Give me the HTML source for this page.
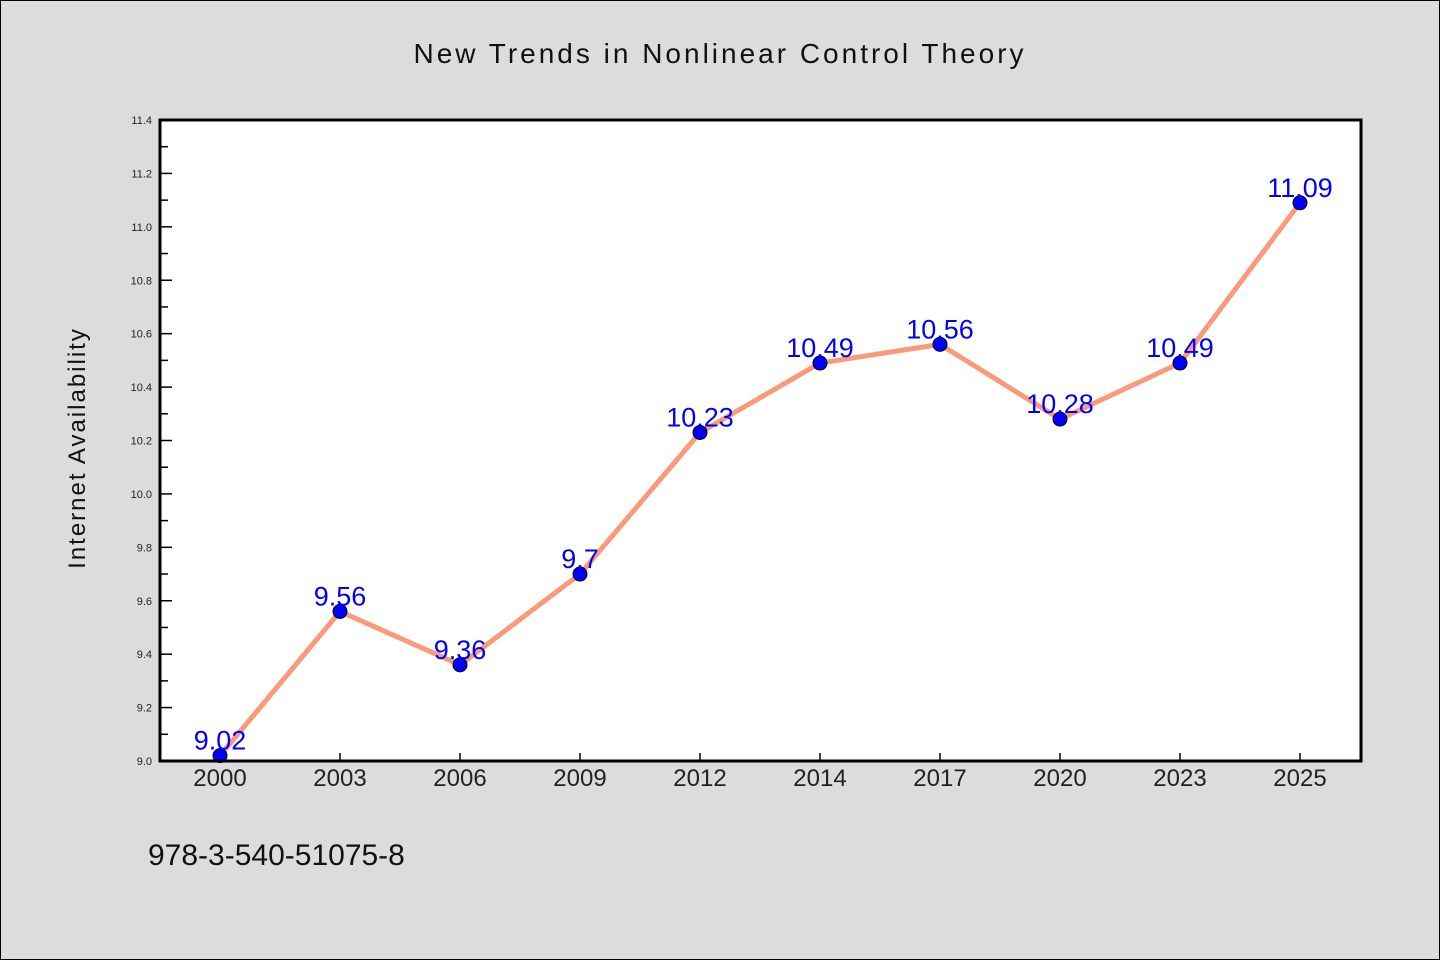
<!DOCTYPE html>
<html><head><meta charset="utf-8"><style>
body{margin:0;background:#dcdcdc;}
svg{display:block;font-family:"WenQuanYi Zen Hei","Liberation Sans",sans-serif;}
</style></head><body>
<svg id="chart" width="1440" height="960">
<rect x="0.5" y="0.5" width="1439" height="959" fill="#dcdcdc" stroke="#000"/>
<text x="720" y="63" text-anchor="middle" font-size="28" letter-spacing="3" fill="#111">New Trends in Nonlinear Control Theory</text>
<rect x="160" y="120" width="1201" height="641" fill="#fff"/>
<g id="ticks"></g>
<g id="series"></g>
<rect x="160" y="120" width="1201" height="641" fill="none" stroke="#000" stroke-width="3"/>
<text transform="translate(85,448) rotate(-90)" text-anchor="middle" font-size="24" letter-spacing="2" fill="#111">Internet Availability</text>
<text x="148" y="865" font-size="30" fill="#111">978-3-540-51075-8</text>
</svg>
<script>
const categories=["2000","2003","2006","2009","2012","2014","2017","2020","2023","2025"];
const values=[9.02,9.56,9.36,9.7,10.23,10.49,10.56,10.28,10.49,11.09];
const yTicks=["9.0","9.2","9.4","9.6","9.8","10.0","10.2","10.4","10.6","10.8","11.0","11.2","11.4"];
const NS="http://www.w3.org/2000/svg";
const L=160,R=1360,T=120,B=761,YMIN=9.0,YMAX=11.4;
const x=i=>L+(i+0.5)*(R-L)/categories.length;
const y=v=>B-(v-YMIN)/(YMAX-YMIN)*(B-T);
function mk(tag,a,p){const e=document.createElementNS(NS,tag);for(const k in a)e.setAttribute(k,a[k]);p.appendChild(e);return e;}
const tg=document.getElementById('ticks'),sg=document.getElementById('series');
yTicks.forEach(t=>{const v=parseFloat(t),yy=y(v);
 const l=mk('line',{x1:L,x2:L+12,y1:yy,y2:yy,stroke:'#000','stroke-width':1.5},tg);
 
 
 const tx=mk('text',{x:152,y:yy+4,'text-anchor':'end','font-size':11,fill:'#222'},tg);
 tx.textContent=t;
 
 
 if(v<YMAX-0.01){const m=mk('line',{x1:L,x2:L+8,y1:y(v+0.1),y2:y(v+0.1),stroke:'#000','stroke-width':1.5},tg);
  
  }
});
categories.forEach((c,i)=>{
 const l=mk('line',{x1:x(i),x2:x(i),y1:B,y2:B-8,stroke:'#000','stroke-width':1.5},tg);
 
 
 const tx=mk('text',{x:x(i),y:B+25,'text-anchor':'middle','font-size':24,fill:'#222'},tg);
 tx.textContent=c;
 
 
});
const line=mk('polyline',{points:values.map((v,i)=>x(i)+','+y(v)).join(' '),fill:'none',stroke:'#fa9a78','stroke-width':5,'stroke-linejoin':'round'},sg);


values.forEach((v,i)=>{
 const c=mk('circle',{cx:x(i),cy:y(v),r:7,fill:'#0000ff',stroke:'#000','stroke-width':1},sg);
 
 
});
values.forEach((v,i)=>{
 const t=mk('text',{x:x(i),y:y(v)-6,'text-anchor':'middle','font-size':27,fill:'#0000ff'},sg);
 t.textContent=String(v);
 
 
});
</script>
</body></html>
